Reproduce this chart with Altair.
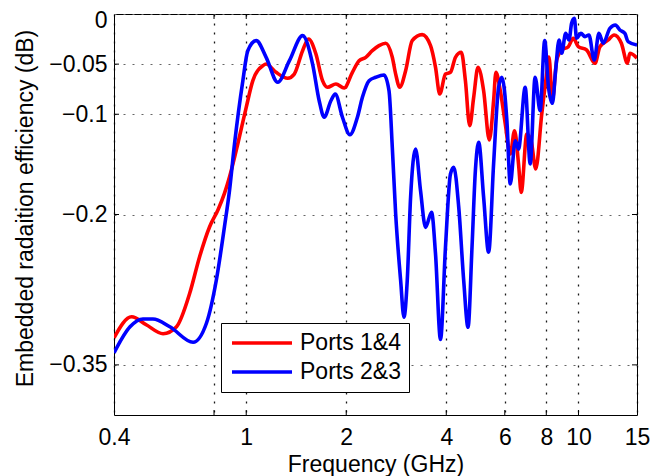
import altair as alt
import pandas as pd

# ---- data ----
red_freq = [0.4, 0.452, 0.5, 0.562, 0.617, 0.676, 0.724, 0.776, 0.822, 0.860, 0.891, 0.943,
            1.000, 1.047, 1.122, 1.148, 1.230, 1.333, 1.395, 1.478, 1.540, 1.621, 1.697, 1.756,
            1.862, 1.971, 2.087, 2.186, 2.290, 2.396, 2.510, 2.629, 2.752, 2.817, 2.896, 3.018,
            3.159, 3.384, 3.587, 3.713, 3.824, 3.978, 4.118, 4.263, 4.44, 4.567, 4.705, 4.837,
            4.983, 5.182, 5.39, 5.553, 5.642, 5.816, 6.021, 6.232, 6.42, 6.60, 6.724, 6.99,
            7.204, 7.437, 7.752, 8.01, 8.15, 8.345, 8.6, 8.9, 9.32, 9.647, 9.985, 10.58,
            11.21, 11.6, 12.29, 12.8, 13.46, 14.04, 14.27, 15.0]
red_val = [-0.323, -0.302, -0.310, -0.319, -0.312, -0.2786, -0.2421, -0.2122, -0.1955, -0.1789,
           -0.1623, -0.1297, -0.0931, -0.0665, -0.0516, -0.0499, -0.0582, -0.0641, -0.0599,
           -0.0366, -0.0249, -0.0399, -0.0665, -0.0731, -0.0698, -0.0738, -0.0582, -0.0466,
           -0.0432, -0.0366, -0.0316, -0.0292, -0.0432, -0.0599, -0.0731, -0.0566, -0.0266,
           -0.0206, -0.0316, -0.0532, -0.0798, -0.0599, -0.0582, -0.0432, -0.0382, -0.0665,
           -0.1114, -0.0831, -0.0532, -0.0765, -0.1257, -0.0865, -0.0582, -0.0765, -0.1097,
           -0.1397, -0.1164, -0.1496, -0.1779, -0.1197, -0.1264, -0.1546, -0.0998, -0.061,
           -0.043, -0.0858, -0.046, -0.0359, -0.0326, -0.0242, -0.0326, -0.0359, -0.0492,
           -0.0326, -0.0259, -0.0209, -0.0292, -0.0492, -0.0392, -0.044]

blue_freq = [0.4, 0.447, 0.489, 0.524, 0.589, 0.692, 0.759, 0.813, 0.860, 0.891, 0.922, 0.977,
             1.011, 1.072, 1.148, 1.244, 1.349, 1.478, 1.584, 1.658, 1.717, 1.798, 1.853, 1.948,
             2.051, 2.161, 2.237, 2.343, 2.454, 2.598, 2.690, 2.752, 2.817, 2.916, 2.983, 3.052,
             3.124, 3.233, 3.347, 3.465, 3.612, 3.713, 3.843, 3.978, 4.118, 4.213, 4.361, 4.514,
             4.651, 4.781, 4.894, 5.007, 5.182, 5.364, 5.553, 5.748, 5.881, 6.088, 6.232, 6.452,
             6.60, 6.912, 7.156, 7.404, 7.665, 7.913, 8.12, 8.345, 8.537, 8.74, 8.90, 9.15,
             9.365, 9.535, 9.715, 9.87, 10.17, 10.46, 10.75, 11.15, 11.52, 11.87, 12.43, 12.92,
             13.32, 13.79, 14.10, 15.0]
blue_val = [-0.338, -0.312, -0.3042, -0.3042, -0.312, -0.3275, -0.3085, -0.2653, -0.2122, -0.1756,
            -0.1297, -0.0665, -0.0366, -0.0266, -0.0432, -0.0681, -0.0466, -0.0216, -0.0499,
            -0.0865, -0.1030, -0.0865, -0.0798, -0.1030, -0.1204, -0.1030, -0.0831, -0.0665,
            -0.0631, -0.0608, -0.0765, -0.1330, -0.1995, -0.2660, -0.3025, -0.2660, -0.1828,
            -0.1347, -0.1763, -0.2128, -0.1978, -0.2394, -0.3247, -0.2327, -0.1596, -0.1529,
            -0.1928, -0.2660, -0.3125, -0.2327, -0.1563, -0.1280, -0.1828, -0.2377, -0.1496,
            -0.0731, -0.0631, -0.1064, -0.1696, -0.1264, -0.1347, -0.0731, -0.1496, -0.0631,
            -0.0965, -0.0266, -0.0725, -0.0891, -0.0559, -0.0259, -0.0392, -0.0193, -0.0259,
            -0.0093, -0.0043, -0.0242, -0.0193, -0.0226, -0.0209, -0.0459, -0.0193, -0.0292,
            -0.0143, -0.0110, -0.0160, -0.0193, -0.0276, -0.031]

series_names = ["Ports 1&4", "Ports 2&3"]
series_colors = ["#ff0000", "#0000ff"]
x_ticks = [0.4, 0.8, 1, 2, 4, 6, 8, 10, 15]
y_ticks = [0, -0.05, -0.1, -0.2, -0.35]
x_title = "Frequency (GHz)"
y_title = "Embedded radaition efficiency (dB)"

df = pd.concat([
    pd.DataFrame({"freq": red_freq, "value": red_val, "series": series_names[0]}),
    pd.DataFrame({"freq": blue_freq, "value": blue_val, "series": series_names[1]}),
], ignore_index=True)
xt = pd.DataFrame({"freq": x_ticks[1:-1]})
yt = pd.DataFrame({"value": y_ticks[1:]})

W, H = 523, 401
FONT = "Liberation Sans"
FS = 23

xscale = alt.Scale(type="log", domain=[0.4, 15], nice=False)
yscale = alt.Scale(domain=[-0.4, 0], nice=False, zero=False)

x_axis = alt.Axis(values=x_ticks, format="~g", grid=True, gridColor="black",
                  gridDash=[2, 7], gridWidth=1.3, gridOpacity=0.9,
                  labelExpr="datum.value == 0.8 ? '' : datum.label",
                  labelBaseline="alphabetic", labelPadding=29, labelFlush=False,
                  labelOverlap=False, titleBaseline="alphabetic", titleY=56)
y_axis = alt.Axis(values=y_ticks, grid=True, gridColor="#666666", gridDash=[2, 7],
                  gridWidth=1,
                  labelExpr="datum.value == 0 ? '0' : '\u2212' + toString(abs(datum.value))",
                  labelOffset={"condition": {"test": "datum.value == 0", "value": 6},
                               "value": 0},
                  labelPadding=7, labelFlush=False, labelOverlap=False,
                  titleAngle=270, titleBaseline="alphabetic", titleX=-82, titleY=194,
                  titleAlign="center")

lines = alt.Chart(df).mark_line(strokeWidth=3.6, interpolate="monotone", clip=True).encode(
    x=alt.X("freq:Q", scale=xscale, title=x_title, axis=x_axis),
    y=alt.Y("value:Q", scale=yscale, title=y_title, axis=y_axis),
    color=alt.Color("series:N",
                    scale=alt.Scale(domain=series_names, range=series_colors),
                    legend=alt.Legend(title=None, orient="none", legendX=107, legendY=309,
                                      direction="vertical", symbolType="M-0.9,0H5.1",
                                      symbolSize=400, symbolStrokeWidth=3.6,
                                      symbolFillColor="transparent",
                                      labelFont=FONT, labelFontSize=FS, labelColor="black",
                                      labelOffset=47, padding=8, rowPadding=5,
                                      strokeColor="black", fillColor="white",
                                      cornerRadius=0)),
)

tick_bottom = alt.Chart(xt).mark_rule(color="black", strokeWidth=1).encode(
    x=alt.X("freq:Q", scale=xscale, title=x_title), y=alt.value(H), y2=alt.value(H - 5))
tick_top = alt.Chart(xt).mark_rule(color="black", strokeWidth=1).encode(
    x=alt.X("freq:Q", scale=xscale, title=x_title), y=alt.value(0), y2=alt.value(5))
tick_left = alt.Chart(yt).mark_rule(color="black", strokeWidth=1).encode(
    y=alt.Y("value:Q", scale=yscale, title=y_title), x=alt.value(0), x2=alt.value(5))
tick_right = alt.Chart(yt).mark_rule(color="black", strokeWidth=1).encode(
    y=alt.Y("value:Q", scale=yscale, title=y_title), x=alt.value(W), x2=alt.value(W - 5))

chart = alt.layer(lines, tick_bottom, tick_top, tick_left, tick_right).properties(
    width=W, height=H,
    autosize=alt.AutoSizeParams(type="none"),
    padding={"left": 106, "top": 6, "right": 16, "bottom": 61},
    background="white",
).configure_view(stroke="black", strokeWidth=1).configure_axis(
    domain=False, ticks=False, labelFont=FONT, labelFontSize=FS, labelColor="black",
    titleFont=FONT, titleFontSize=FS, titleFontWeight="normal", titleColor="black",
)

chart.save("out.html", embed_options={"renderer": "svg", "actions": False})
